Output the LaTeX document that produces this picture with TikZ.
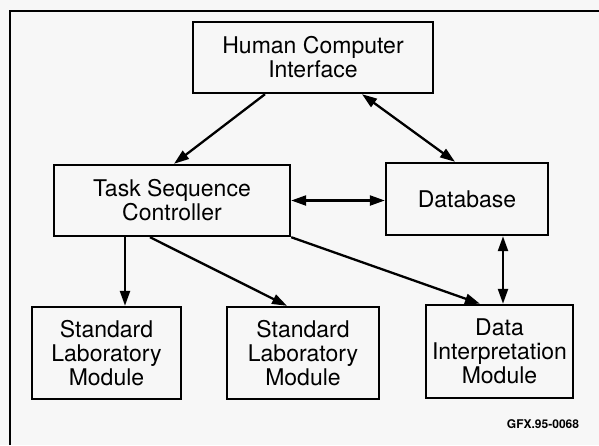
\documentclass[tikz,border=0pt]{standalone}
\usepackage{fontspec}
\setmainfont{TeX Gyre Heros}
\usetikzlibrary{arrows.meta,calc}
\definecolor{bgcol}{HTML}{F7F7F7}
\tikzset{
  box/.style={draw=black, line width=2.4pt, rectangle, align=center, inner sep=2pt,
    font=\fontsize{23}{24}\selectfont},
  conn/.style={line width=2.3pt, -{Triangle[length=15pt,width=10pt]}},
  bconn/.style={line width=2.3pt, {Triangle[length=15pt,width=10pt]}-{Triangle[length=15pt,width=10pt]}}
}
\begin{document}
\begin{tikzpicture}[x=1pt,y=1pt]
\fill[bgcol] (0,0) rectangle (599,-445);
\useasboundingbox (0,0) rectangle (599,-445);
% frame
\draw[line width=2.4pt] (10,-445) -- (10,-11) -- (599,-11);
% nodes
\node[box, minimum width=240, minimum height=71] (hci) at (313,-57.5) {Human Computer\\Interface};
\node[box, minimum width=236, minimum height=71] (tsc) at (172,-200.5) {Task Sequence\\Controller};
\node[box, minimum width=162, minimum height=72] (db) at (467,-199) {Database};
\node[box, minimum width=149, minimum height=92] (slm1) at (106.5,-353) {Standard\\Laboratory\\Module};
\node[box, minimum width=152, minimum height=92] (slm2) at (303,-353) {Standard\\Laboratory\\Module};
\node[box, minimum width=147, minimum height=93, inner sep=0pt] (dim) at (499.5,-351.5) {Data\\Interpretation\\Module};
\node[font=\bfseries\fontsize{12}{14}\selectfont, inner sep=0pt] (gfx) at (543,-424) {GFX.95-0068};
% connectors
\draw[conn] ([xshift=-48pt]hci.south) -- ([xshift=2pt]tsc.north);
\draw[bconn] ([xshift=49pt]hci.south) -- ([xshift=-12pt]db.north);
\draw[bconn] (tsc.east) -- (tsc.east -| db.west);
\draw[conn] ([xshift=-47pt]tsc.south) -- ([xshift=-47pt]tsc.south |- slm1.north);
\draw[conn] ([xshift=-22pt]tsc.south) -- ([xshift=-16pt]slm2.north);
\draw[conn] (tsc.south east) -- ([xshift=-19.5pt]dim.north);
\draw[bconn] ([xshift=36pt]db.south) -- ([xshift=36pt]db.south |- dim.north);
\end{tikzpicture}
\end{document}
